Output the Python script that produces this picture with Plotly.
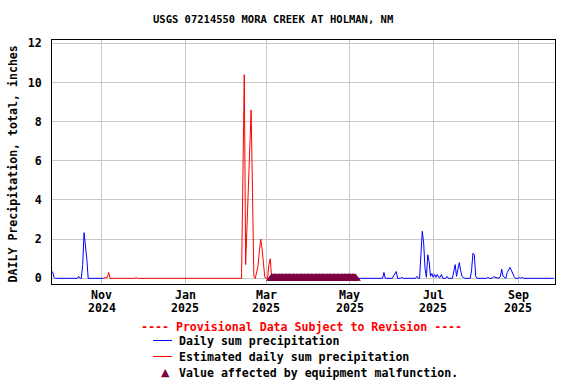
import plotly.graph_objects as go
import pandas as pd

# ---------------- data ----------------
TITLE = "USGS 07214550 MORA CREEK AT HOLMAN, NM"
Y_TITLE = "DAILY Precipitation, total, inches"

# Daily sum precipitation (observed), first part
obs1_dates = ["2024-09-26", "2024-09-27", "2024-09-28", "2024-10-14", "2024-10-15",
              "2024-10-16", "2024-10-17", "2024-10-18", "2024-10-19", "2024-10-20",
              "2024-10-21", "2024-10-22", "2024-11-02"]
obs1_vals = [0.35, 0.05, 0.0, 0.0, 0.1, 0.0, 0.0, 0.7, 2.33, 1.8, 1.0, 0.0, 0.0]

# Estimated daily sum precipitation
est_dates = ["2024-11-02", "2024-11-05", "2024-11-06", "2024-11-07", "2024-11-25",
             "2024-11-26", "2024-11-27", "2025-01-13", "2025-01-14", "2025-01-15",
             "2025-02-11", "2025-02-12", "2025-02-13", "2025-02-14", "2025-02-15",
             "2025-02-16", "2025-02-17", "2025-02-18", "2025-02-19", "2025-02-20",
             "2025-02-21", "2025-02-22", "2025-02-23", "2025-02-24", "2025-02-25",
             "2025-02-26", "2025-02-27", "2025-02-28", "2025-03-01", "2025-03-02",
             "2025-03-03", "2025-03-04", "2025-03-05"]
est_vals = [0.0, 0.05, 0.3, 0.0, 0.0,
            0.04, 0.0, 0.0, 0.03, 0.0,
            0.0, 5.2, 10.4, 0.7, 2.6,
            4.4, 7.2, 8.6, 4.4, 0.1,
            0.0, 0.3, 0.6, 1.4, 2.0,
            1.5, 0.6, 0.05, 0.0, 0.0,
            0.7, 1.0, 0.0]

# Daily sum precipitation (observed), second part
obs2_dates = ["2025-05-06", "2025-05-25", "2025-05-26", "2025-05-27", "2025-06-01",
              "2025-06-02", "2025-06-03", "2025-06-04", "2025-06-05", "2025-06-07",
              "2025-06-08", "2025-06-09", "2025-06-18", "2025-06-19", "2025-06-20",
              "2025-06-21", "2025-06-22", "2025-06-23", "2025-06-24", "2025-06-25",
              "2025-06-26", "2025-06-27", "2025-06-28", "2025-06-29", "2025-06-30",
              "2025-07-01", "2025-07-02", "2025-07-03", "2025-07-04", "2025-07-05",
              "2025-07-06", "2025-07-07", "2025-07-08", "2025-07-10", "2025-07-11",
              "2025-07-12", "2025-07-15", "2025-07-16", "2025-07-17", "2025-07-18",
              "2025-07-19", "2025-07-20", "2025-07-21", "2025-07-22", "2025-07-23",
              "2025-07-24", "2025-07-28", "2025-07-29", "2025-07-30", "2025-07-31",
              "2025-08-01", "2025-08-02", "2025-08-09", "2025-08-10", "2025-08-11",
              "2025-08-12", "2025-08-13", "2025-08-14", "2025-08-17", "2025-08-18",
              "2025-08-19", "2025-08-20", "2025-08-21", "2025-08-23", "2025-08-24",
              "2025-08-25", "2025-08-26", "2025-08-27", "2025-08-28", "2025-08-29",
              "2025-08-30", "2025-09-01", "2025-09-02", "2025-09-03", "2025-09-04",
              "2025-09-05", "2025-09-27"]
obs2_vals = [0.0, 0.0, 0.3, 0.0, 0.0,
             0.1, 0.25, 0.35, 0.0, 0.0,
             0.05, 0.0, 0.0, 0.1, 0.0,
             0.0, 1.2, 2.4, 1.8, 0.5,
             0.05, 1.2, 0.85, 0.1, 0.25,
             0.05, 0.2, 0.05, 0.2, 0.05,
             0.05, 0.2, 0.0, 0.0, 0.1,
             0.0, 0.0, 0.42, 0.7, 0.1,
             0.5, 0.8, 0.4, 0.1, 0.05,
             0.0, 0.0, 0.42, 1.28, 1.19,
             0.1, 0.0, 0.0, 0.05, 0.0,
             0.0, 0.0, 0.08, 0.0, 0.0,
             0.1, 0.47, 0.1, 0.0, 0.29,
             0.42, 0.56, 0.42, 0.22, 0.1,
             0.0, 0.0, 0.05, 0.0, 0.05,
             0.0, 0.0]

# Days flagged "Value affected by equipment malfunction" (plotted at 0)
malf_dates = pd.date_range("2025-03-05", "2025-05-05", freq="D")
malf_vals = [0.0] * len(malf_dates)

tick_dates = ["2024-11-01", "2025-01-01", "2025-03-01", "2025-05-01", "2025-07-01", "2025-09-01"]
tick_months = ["Nov", "Jan", "Mar", "May", "Jul", "Sep"]
tick_years = ["2024", "2025", "2025", "2025", "2025", "2025"]
y_ticks = [0, 2, 4, 6, 8, 10, 12]

LEGEND_NOTE = "---- Provisional Data Subject to Revision ----"
LEGEND_OBS = "Daily sum precipitation"
LEGEND_EST = "Estimated daily sum precipitation"
LEGEND_MALF = "Value affected by equipment malfunction."

# ---------------- styling ----------------
W, H = 576, 384
PL, PR, PT, PB = 52, 555, 40, 284
FONT = "DejaVu Sans Mono"
BLUE = "#0000ff"
RED = "#ff0000"
MAROON = "#7f0040"
GRID = "#c8c8c8"


def fx(px):
    return (px - PL) / (PR - PL)


def fy(py):
    return (PB - py) / (PB - PT)


fig = go.Figure()
fig.add_trace(go.Scatter(x=obs1_dates, y=obs1_vals, mode="lines",
                         line=dict(color=BLUE, width=1), showlegend=False))
fig.add_trace(go.Scatter(x=est_dates, y=est_vals, mode="lines",
                         line=dict(color=RED, width=1), showlegend=False))
fig.add_trace(go.Scatter(x=obs2_dates, y=obs2_vals, mode="lines",
                         line=dict(color=BLUE, width=1), showlegend=False))
fig.add_trace(go.Scatter(x=malf_dates, y=malf_vals, mode="markers",
                         marker=dict(symbol="triangle-up", size=10, color=MAROON,
                                     line=dict(width=0)),
                         showlegend=False, cliponaxis=False))

bold = dict(family=FONT, size=11.6, color="black", weight="bold")

annotations = [
    dict(text=TITLE, x=fx(273), y=fy(19), xref="paper", yref="paper",
         showarrow=False, xanchor="center", yanchor="middle",
         font=dict(family=FONT, size=10.5, color="black", weight="bold")),
    dict(text=Y_TITLE, x=fx(12.5), y=fy(164), xref="paper", yref="paper",
         showarrow=False, textangle=-90, xanchor="center", yanchor="middle",
         font=bold),
    dict(text=LEGEND_NOTE, x=fx(301), y=fy(327), xref="paper", yref="paper",
         showarrow=False, xanchor="center", yanchor="middle",
         font=dict(family=FONT, size=11.6, color=RED, weight="bold")),
    dict(text=LEGEND_OBS, x=fx(177), y=fy(341), xref="paper", yref="paper",
         showarrow=False, xanchor="left", yanchor="middle", font=bold),
    dict(text=LEGEND_EST, x=fx(177), y=fy(357), xref="paper", yref="paper",
         showarrow=False, xanchor="left", yanchor="middle", font=bold),
    dict(text=LEGEND_MALF, x=fx(177), y=fy(373), xref="paper", yref="paper",
         showarrow=False, xanchor="left", yanchor="middle", font=bold),
    dict(text="▲", x=fx(165), y=fy(372), xref="paper", yref="paper",
         showarrow=False, xanchor="center", yanchor="middle",
         font=dict(family="DejaVu Sans", size=11, color=MAROON)),
]
for d, m, yr in zip(tick_dates, tick_months, tick_years):
    annotations.append(dict(text=m, x=d, xref="x", y=fy(295), yref="paper",
                            showarrow=False, xanchor="center", yanchor="middle", font=bold))
    annotations.append(dict(text=yr, x=d, xref="x", y=fy(308), yref="paper",
                            showarrow=False, xanchor="center", yanchor="middle", font=bold))

shapes = [
    dict(type="line", xref="paper", yref="paper", x0=fx(153), x1=fx(172),
         y0=fy(340.5), y1=fy(340.5), line=dict(color=BLUE, width=1)),
    dict(type="line", xref="paper", yref="paper", x0=fx(153), x1=fx(172),
         y0=fy(356.5), y1=fy(356.5), line=dict(color=RED, width=1)),
]

fig.update_layout(
    width=W, height=H,
    margin=dict(l=PL, r=W - PR, t=PT, b=H - PB, pad=0),
    paper_bgcolor="white", plot_bgcolor="white",
    annotations=annotations, shapes=shapes,
    showlegend=False,
    hovermode=False,
)
fig.update_xaxes(
    type="date", range=["2024-09-25 14:00", "2025-09-27 22:00"],
    tickvals=tick_dates, showticklabels=False, ticks="",
    showgrid=True, gridcolor=GRID, gridwidth=1,
    showline=True, linecolor="black", linewidth=1, mirror=True,
    zeroline=False,
)
fig.update_yaxes(
    range=[-0.29, 12.17], tickvals=y_ticks, ticktext=[str(v) for v in y_ticks],
    ticks="", ticklabelstandoff=7,
    tickfont=bold,
    showgrid=True, gridcolor=GRID, gridwidth=1,
    showline=True, linecolor="black", linewidth=1, mirror=True,
    zeroline=False,
)

fig.write_html("out.html",
               config={"displayModeBar": False, "staticPlot": True},
               post_script="document.body.style.margin='0';document.body.style.padding='0';document.body.style.overflow='hidden';")
